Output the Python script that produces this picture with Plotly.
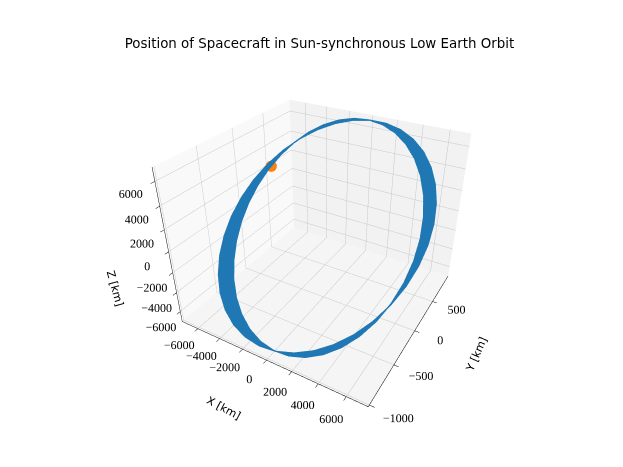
import plotly.graph_objects as go

# Orbit position samples, every 10 deg of argument of latitude.
# The band is the spread between the first and last revolution.
anomaly_deg = list(range(0, 360, 10))

z_km = [0, 1202, 2367, 3461, 4449, 5302, 5994, 6504, 6816, 6921, 6816, 6504,
        5994, 5302, 4449, 3461, 2367, 1202, 0, -1202, -2367, -3461, -4449, -5302,
        -5994, -6504, -6816, -6921, -6816, -6504, -5994, -5302, -4449, -3461, -2367, -1202]

# first revolution
x_first = [6980, 6875, 6562, 6049, 5352, 4493, 3497, 2395, 1220, 8, -1204, -2380,
           -3483, -4480, -5342, -6041, -6556, -6872, -6980, -6875, -6562, -6049, -5352, -4493,
           -3497, -2395, -1220, -8, 1204, 2380, 3483, 4480, 5342, 6041, 6556, 6872]
y_first = [-61, 98, 253, 401, 537, 656, 755, 832, 883, 907, 904, 874,
           816, 734, 630, 506, 368, 218, 61, -98, -253, -401, -537, -656,
           -755, -832, -883, -907, -904, -874, -816, -734, -630, -506, -368, -218]

# last revolution
x_last = [7116, 7004, 6684, 6165, 5463, 4600, 3600, 2496, 1320, 108, -1103, -2276,
          -3375, -4368, -5224, -5917, -6426, -6735, -6836, -6724, -6404, -5885, -5183, -4320,
          -3320, -2216, -1040, 172, 1383, 2556, 3655, 4648, 5504, 6197, 6706, 7015]
y_last = [244, 397, 539, 664, 770, 851, 907, 935, 935, 907, 851, 769,
          664, 538, 396, 242, 81, -82, -244, -397, -539, -664, -770, -851,
          -907, -935, -935, -907, -851, -769, -664, -538, -396, -242, -81, 82]

# current spacecraft position (orange marker)
sc_pos = (-6470, 400, 2590)

xy_ticks = [-6000, -4000, -2000, 0, 2000, 4000, 6000]
y_ticks = [-1000, -500, 0, 500]
z_ticks = [-6000, -4000, -2000, 0, 2000, 4000, 6000]

BLUE = "#1f77b4"
ORANGE = "#ff7f0e"


def lab(v):
    return str(v).replace("-", "\u2212")


n = len(anomaly_deg)
i_idx, j_idx, k_idx = [], [], []
for a in range(n):
    b = (a + 1) % n
    i_idx += [a, b]
    j_idx += [b, n + b]
    k_idx += [n + a, n + a]

fig = go.Figure()
fig.add_trace(go.Mesh3d(
    x=x_first + x_last, y=y_first + y_last, z=z_km + z_km,
    i=i_idx, j=j_idx, k=k_idx,
    color=BLUE, opacity=1, flatshading=True,
    lighting=dict(ambient=1, diffuse=0, specular=0, roughness=1, fresnel=0),
    hoverinfo="skip",
))
for xs, ys in [(x_first, y_first), (x_last, y_last)]:
    fig.add_trace(go.Scatter3d(
        x=xs + xs[:1], y=ys + ys[:1], z=z_km + z_km[:1],
        mode="lines", line=dict(color=BLUE, width=2.5), hoverinfo="skip",
    ))
fig.add_trace(go.Scatter3d(
    x=[sc_pos[0]], y=[sc_pos[1]], z=[sc_pos[2]],
    mode="markers", marker=dict(color=ORANGE, size=6.5, line=dict(width=0)),
    hoverinfo="skip",
))

tick_font = dict(family="Liberation Serif, DejaVu Serif, serif", size=12, color="black")
title_font = dict(family="DejaVu Sans, sans-serif", size=11, color="black")


def axis(title, rng, ticks, bg):
    return dict(
        title=dict(text=title, font=title_font),
        range=rng, tickvals=ticks, ticktext=[lab(t) for t in ticks],
        tickfont=tick_font, tickangle=0, showbackground=True, backgroundcolor=bg,
        gridcolor="#c8c8c8", gridwidth=1, zeroline=False,
        showline=True, linecolor="black", linewidth=1,
        ticks="outside", tickcolor="black", ticklen=4,
        showspikes=False, autorange=False,
    )


fig.update_layout(
    width=623, height=467,
    paper_bgcolor="white",
    margin=dict(l=0, r=0, t=0, b=0),
    showlegend=False,
    title=dict(text="Position of Spacecraft in Sun-synchronous Low Earth Orbit",
               x=0.5, xanchor="center", y=0.925, yanchor="middle",
               font=dict(family="DejaVu Sans, sans-serif", size=13.4, color="black")),
    scene=dict(
        domain=dict(x=[0.025, 0.985], y=[0.075, 0.975]),
        xaxis=axis("X [km]", [-7500, 7500], xy_ticks, "#f9f9f9"),
        yaxis=axis("Y [km]", [-1020, 1000], y_ticks, "#f2f2f2"),
        zaxis=axis("Z [km]", [-7100, 7100], z_ticks, "#f5f5f5"),
        aspectmode="manual",
        aspectratio=dict(x=1, y=1, z=0.82),
        camera=dict(eye=dict(x=1.02, y=-1.76, z=1.27), center=dict(x=0, y=0, z=0)),
    ),
)

fig.write_html("out.html")
